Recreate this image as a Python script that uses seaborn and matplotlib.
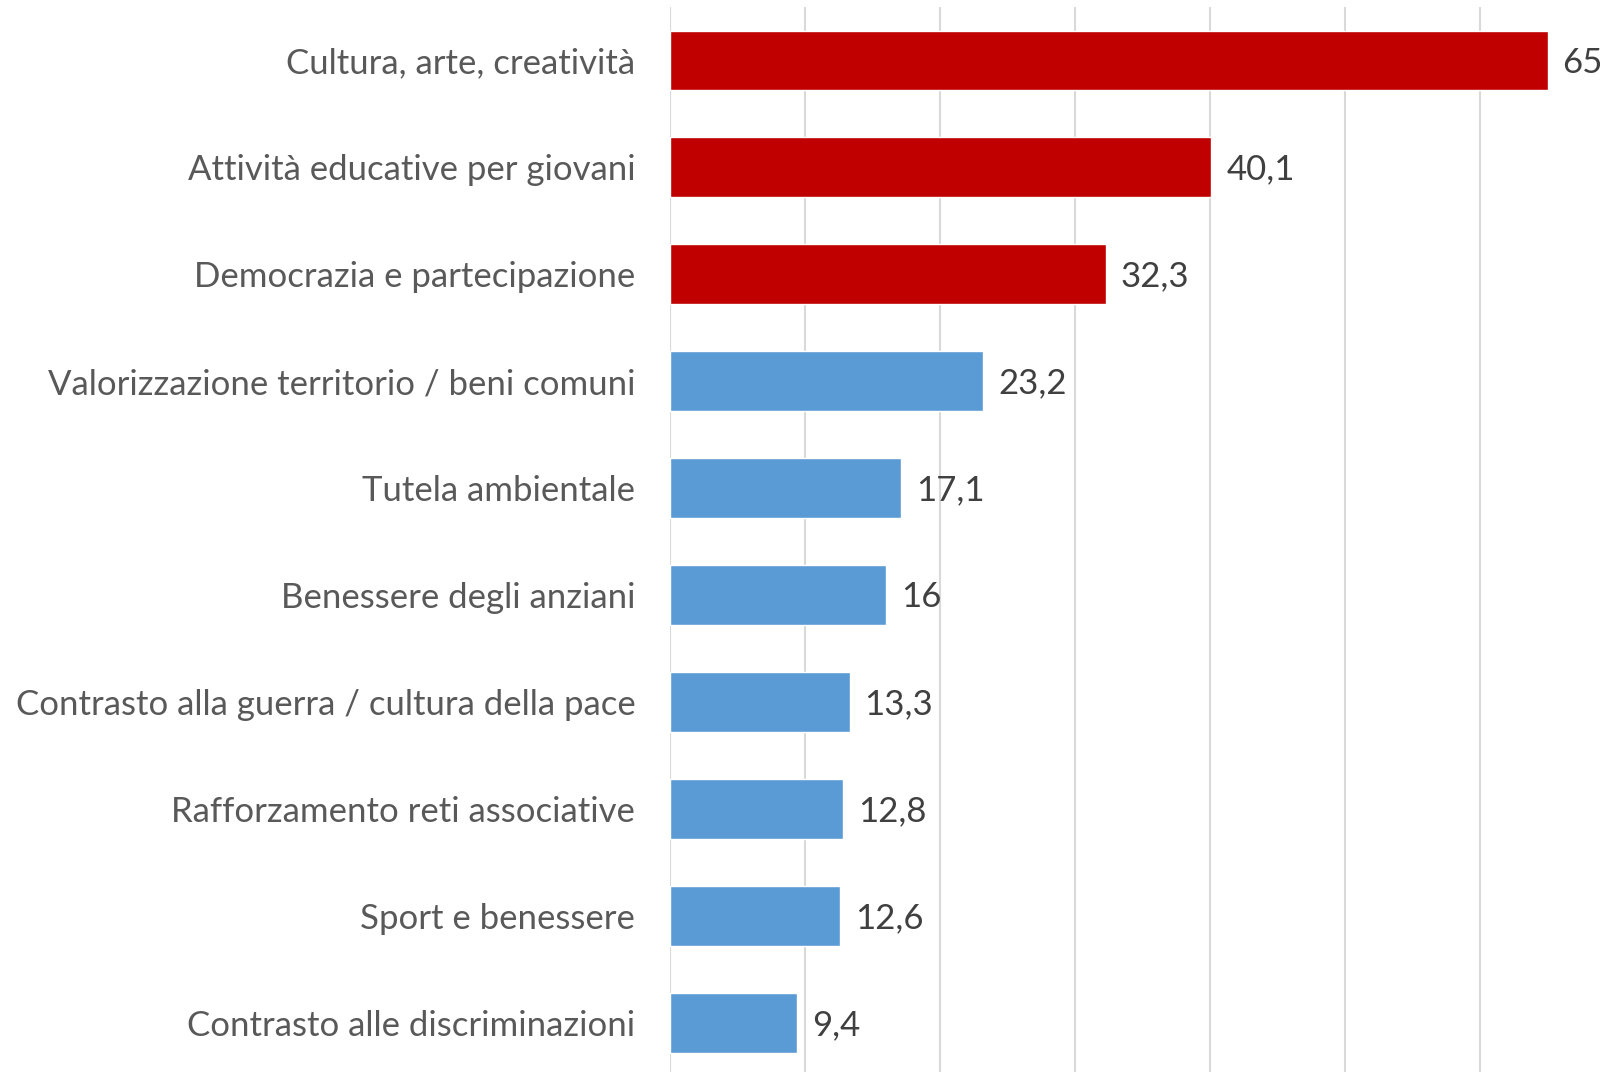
import matplotlib
matplotlib.use("Agg")
import matplotlib.pyplot as plt
import pandas as pd
import seaborn as sns

categories = [
    "Cultura, arte, creatività",
    "Attività educative per giovani",
    "Democrazia e partecipazione",
    "Valorizzazione territorio / beni comuni",
    "Tutela ambientale",
    "Benessere degli anziani",
    "Contrasto alla guerra / cultura della pace",
    "Rafforzamento reti associative",
    "Sport e benessere",
    "Contrasto alle discriminazioni",
]
values = [65, 40.1, 32.3, 23.2, 17.1, 16, 13.3, 12.8, 12.6, 9.4]
highlight = [True, True, True, False, False, False, False, False, False, False]

RED = "#C00000"
BLUE = "#5B9BD5"

df = pd.DataFrame({"categoria": categories, "valore": values})
palette = {c: (RED if h else BLUE) for c, h in zip(categories, highlight)}

sns.set_style("white")
plt.rcParams["font.family"] = ["Lato", "DejaVu Sans"]

fig = plt.figure(figsize=(16.11, 10.72), dpi=100)
ax = fig.add_axes([670 / 1611, 0, 1 - 670 / 1611, 1 - 7 / 1072])

sns.barplot(data=df, x="valore", y="categoria", hue="categoria",
            palette=palette, dodge=False, legend=False, width=0.56,
            saturation=1, ax=ax)

ax.set_xlim(0, 69.7)
ax.set_ylim(9.458, -0.5)
ax.set_xticks(range(0, 70, 10))
ax.xaxis.grid(True, color="#D9D9D9", linewidth=1.5)
ax.set_axisbelow(True)
for s in ax.spines.values():
    s.set_visible(False)
ax.tick_params(axis="x", length=0, labelbottom=False)
ax.tick_params(axis="y", length=0, pad=25, labelsize=25, labelcolor="#595959")
ax.set_xlabel("")
ax.set_ylabel("")

for i, v in enumerate(values):
    label = f"{v:g}".replace(".", ",")
    ax.text(v + 1.1, i + 0.02, label, va="center", ha="left",
            fontsize=25, color="#404040")

fig.savefig("out.png", dpi=100)
